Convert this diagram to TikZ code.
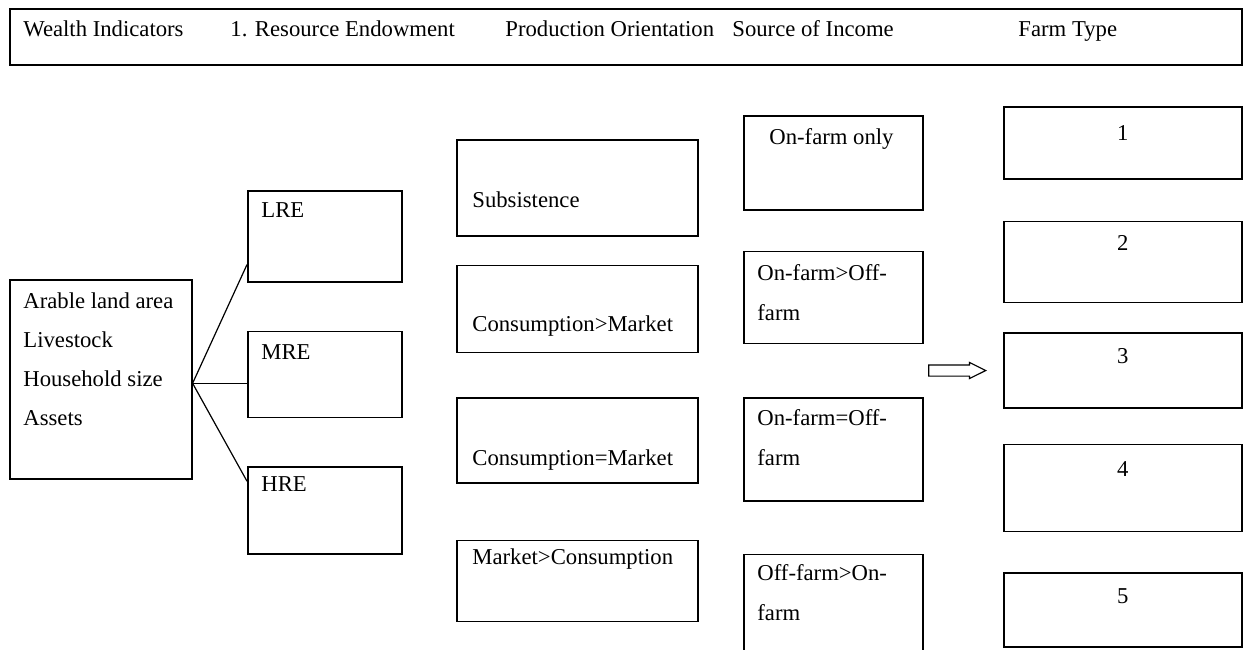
\documentclass[tikz,border=0pt]{standalone}
\usepackage{fontspec}
\setmainfont{Liberation Serif}
\usetikzlibrary{positioning, shapes.arrows}

\begin{document}
\begin{tikzpicture}[
    x=0.5pt, y=-0.5pt,
    every node/.style={font=\fontsize{11.35}{20}\selectfont},
    box/.style={rectangle, draw, line width=0.8pt, inner sep=0pt, anchor=north west},
    colbox/.style={box, minimum width=120.5pt},
    srcbox/.style={box, minimum width=89.5pt},
    typebox/.style={box, minimum width=119pt},
    lbl/.style={inner sep=0pt, anchor=base west},
    multi/.style={inner sep=0pt, anchor=north west, align=left},
    num/.style={inner sep=0pt, anchor=base},
    fatarrow/.style={single arrow, draw, line width=0.6pt, inner xsep=0pt, inner ysep=2.5pt,
        minimum height=28.5pt, single arrow head extend=1.25pt, single arrow tip angle=53}
]
\useasboundingbox (0,0) rectangle (1243,649);

% header strip
\node [box, minimum width=616pt, minimum height=28pt] (header) at (9,8) {};
\node [lbl] (h1) at ([shift={(14,28)}]header.north west) {Wealth Indicators};
\node [lbl] (h2) at ([shift={(221,28)}]header.north west) {1. Resource Endowment};
\node [lbl] (h3) at ([shift={(496,28)}]header.north west) {Production Orientation};
\node [lbl] (h4) at ([shift={(723,28)}]header.north west) {Source of Income};
\node [lbl] (h5) at ([shift={(1009,28)}]header.north west) {Farm Type};

% wealth indicators
\node [box, minimum width=91pt, minimum height=99.5pt] (wealth) at (9,279) {};
\node [multi, font=\fontsize{11.35}{19.5}\selectfont] (wealthtxt) at ([shift={(14,13.5)}]wealth.north west)
    {Arable land area\\ Livestock\\ Household size\\ Assets};

% resource endowment
\node [box, minimum width=77pt, minimum height=45.5pt] (lre) at (247,190) {};
\node [box, minimum width=77pt, minimum height=43pt, below=24pt of lre] (mre) {};
\node [box, minimum width=77pt, minimum height=43.5pt, below=24pt of mre] (hre) {};
\node [lbl] (lretxt) at ([shift={(14,27)}]lre.north west) {LRE};
\node [lbl] (mretxt) at ([shift={(14,29)}]mre.north west) {MRE};
\node [lbl] (hretxt) at ([shift={(14,25)}]hre.north west) {HRE};

\coordinate (fork) at ([yshift=-2pt]wealth.east);
\draw [line width=0.6pt] (fork) -- ([yshift=9pt]lre.south west);
\draw [line width=0.6pt] (fork) -- (fork -| mre.west);
\draw [line width=0.6pt] (fork) -- ([yshift=-7.5pt]hre.north west);

% production orientation
\node [colbox, minimum height=48pt] (subs) at (456,139) {};
\node [colbox, minimum height=43.5pt, below=14pt of subs] (consmkt) {};
\node [colbox, minimum height=42.5pt, below=22pt of consmkt] (conseqmkt) {};
\node [colbox, minimum height=40.5pt, below=28pt of conseqmkt] (mktcons) {};
\node [lbl] (substxt) at ([shift={(16,68)}]subs.north west) {Subsistence};
\node [lbl] (consmkttxt) at ([shift={(16,67)}]consmkt.north west) {Consumption>Market};
\node [lbl] (conseqmkttxt) at ([shift={(16,68)}]conseqmkt.north west) {Consumption=Market};
\node [lbl] (mktconstxt) at ([shift={(16,25)}]mktcons.north west) {Market>Consumption};

% source of income
\node [srcbox, minimum height=47pt] (onfarm) at (743,115) {};
\node [srcbox, minimum height=46pt, below=20pt of onfarm] (ongtoff) {};
\node [srcbox, minimum height=51.5pt, below=26.5pt of ongtoff] (oneqoff) {};
\node [srcbox, minimum height=60pt, below=26pt of oneqoff] (offgton) {};
\node [lbl] (onfarmtxt) at ([shift={(26,29)}]onfarm.north west) {On-farm only};
\node [multi] (ongtofftxt) at ([shift={(14,13.3)}]ongtoff.north west) {On-farm>Off-\\ farm};
\node [multi] (oneqofftxt) at ([shift={(14,12.3)}]oneqoff.north west) {On-farm=Off-\\ farm};
\node [multi] (offgtontxt) at ([shift={(14,10.3)}]offgton.north west) {Off-farm>On-\\ farm};

% farm types
\node [typebox, minimum height=36pt] (type1) at (1003,106) {};
\node [typebox, minimum height=40.5pt, below=20.5pt of type1] (type2) {};
\node [typebox, minimum height=37.5pt, below=14.5pt of type2] (type3) {};
\node [typebox, minimum height=43.5pt, below=17.5pt of type3] (type4) {};
\node [typebox, minimum height=37pt, below=20pt of type4] (type5) {};
\node [num] (n1) at ([yshift=-17pt]type1.north) {1};
\node [num] (n2) at ([yshift=-15pt]type2.north) {2};
\node [num] (n3) at ([yshift=-15.5pt]type3.north) {3};
\node [num] (n4) at ([yshift=-16.5pt]type4.north) {4};
\node [num] (n5) at ([yshift=-15.5pt]type5.north) {5};

\node [fatarrow, left=8pt of type3] (arrow) {};

\end{tikzpicture}
\end{document}
